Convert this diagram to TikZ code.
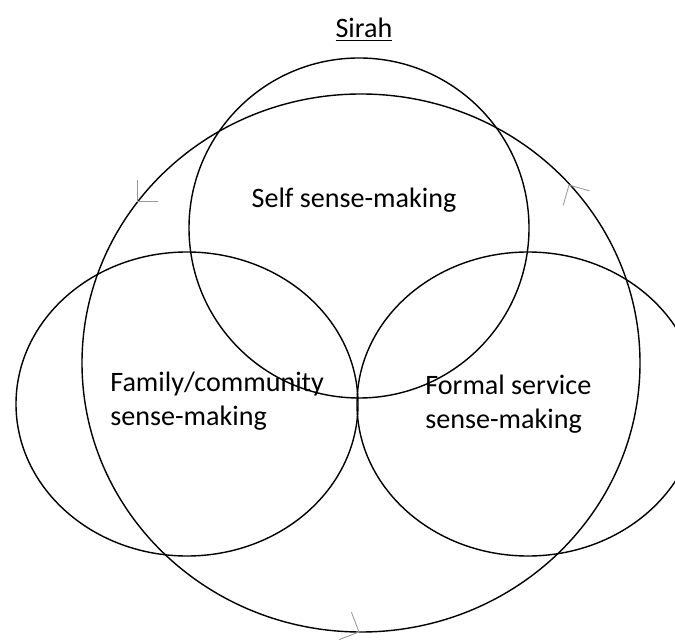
\documentclass[tikz,border=0pt]{standalone}
\usepackage{fontspec}
\setmainfont{Carlito}
\usepackage{tikz}
\tikzset{
    ring/.style={
        draw=black,
        line width=0.8pt
    },
    label/.style={
        inner sep=0pt,
        align=left,
        font=\fontsize{16}{19}\selectfont
    },
    flowmark/.style={draw=gray!80, line width=0.5pt}
}

\begin{document}
\begin{tikzpicture}[x=0.02cm, y=0.02cm]

    \clip (0,0) rectangle (675,642);

    % the outer loop and the three sense-making circles
    \draw[ring] (361,279) ellipse [x radius=279, y radius=269];
    \draw[ring] (359,414) circle [radius=170];
    \draw[ring] (187,238) ellipse [x radius=171, y radius=152];
    \draw[ring] (528,238) ellipse [x radius=171, y radius=152];

    % direction marks on the outer loop
    \draw[flowmark, shift={(137,441)}, rotate=225] (-15,15) -- (0,0) -- (-15,-15);
    \draw[flowmark, shift={(569,457)}, rotate=119] (-15,15) -- (0,0) -- (-15,-15);
    \draw[flowmark, shift={(359,10)}, rotate=-24] (-15,15) -- (0,0) -- (-15,-15);

    \node[label] (title) at (364,612) {\underline{Sirah}};
    \node[label] (self) at (354,442) {Self sense-making};
    \node[label, anchor=west] (family) at (110,241) {Family/community\\sense-making};
    \node[label, anchor=west] (formal) at (425,238) {Formal service\\sense-making};

\end{tikzpicture}
\end{document}
